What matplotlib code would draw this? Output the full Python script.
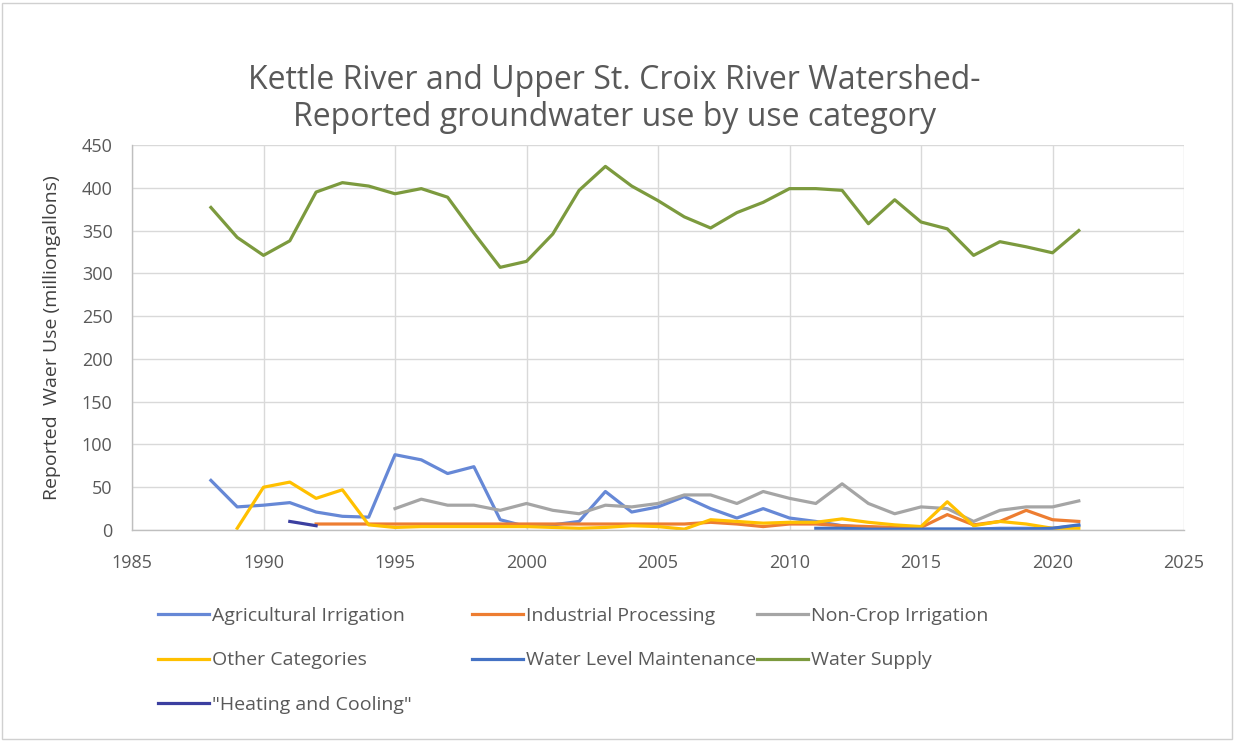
import numpy as np
import matplotlib
matplotlib.use("Agg")
import matplotlib.pyplot as plt
from matplotlib.patches import Rectangle

plt.rcParams['font.family'] = ['Open Sans', 'DejaVu Sans']

# ---- data ----
ws_years = list(range(1988, 2022))
water_supply = [377, 342, 321, 338, 395, 406, 402, 393, 399, 389, 347, 307, 314, 346,
                397, 425, 402, 385, 366, 353, 371, 383, 399, 399, 397, 358, 386, 360,
                352, 321, 337, 331, 324, 350]

ag_years = list(range(1988, 2022))
ag_irrigation = [58, 27, 29, 32, 21, 16, 15, 88, 82, 66, 74, 12, 4, 6,
                 10, 45, 21, 27, 39, 25, 14, 25, 14, 10, 5, 3, 2, 1,
                 1, 1, 2, 2, 2, 5]

ind_years = list(range(1992, 2022))
industrial = [7, 7, 7, 7, 7, 7, 7, 7, 7, 7, 7, 7, 7, 7, 7, 9, 7, 4, 7, 7,
              5, 4, 3, 3, 18, 6, 10, 23, 12, 10]

nc_years = list(range(1995, 2022))
non_crop = [25, 36, 29, 29, 23, 31, 23, 19, 29, 27, 31, 41, 41, 31, 45, 37, 31, 54,
            31, 19, 27, 25, 10, 23, 27, 27, 34]

oth_years = list(range(1989, 2022))
other = [2, 50, 56, 37, 47, 6, 3, 4, 4, 4, 4, 4, 3, 2, 3, 5, 4, 1, 12, 10, 8, 9, 9, 13,
         9, 6, 4, 33, 5, 10, 7, 2, 2]

wlm_years = list(range(2011, 2022))
water_level = [2, 2, 1, 1, 1, 1, 1, 1, 1, 2, 6]

hc_years = [1991, 1992]
heating_cooling = [10, 5]

x_ticks = [1985, 1990, 1995, 2000, 2005, 2010, 2015, 2020, 2025]
y_ticks = [0, 50, 100, 150, 200, 250, 300, 350, 400, 450]

title = "Kettle River and Upper St. Croix River Watershed-\nReported groundwater use by use category"
ylabel = "Reported  Waer Use (milliongallons)"

# ---- figure ----
W, H = 1236, 741
fig = plt.figure(figsize=(W / 100, H / 100), dpi=100)
fig.patch.set_facecolor('white')
fig.add_artist(Rectangle((0.002, 0.003), 0.995, 0.993, transform=fig.transFigure,
                         fill=False, edgecolor='#D0D0D0', linewidth=1.0))

L, R, T, B = 132, 1184, 145, 530
ax = fig.add_axes([L / W, 1 - B / H, (R - L) / W, (B - T) / H])

lw = 2.3
h_ag, = ax.plot(ag_years, ag_irrigation, color='#6688D6', lw=lw, label='Agricultural Irrigation')
h_ind, = ax.plot(ind_years, industrial, color='#ED7D31', lw=lw, label='Industrial Processing')
h_nc, = ax.plot(nc_years, non_crop, color='#A5A5A5', lw=lw, label='Non-Crop Irrigation')
h_oth, = ax.plot(oth_years, other, color='#FFC000', lw=lw, label='Other Categories')
h_wlm, = ax.plot(wlm_years, water_level, color='#4472C4', lw=lw, label='Water Level Maintenance')
h_ws, = ax.plot(ws_years, water_supply, color='#7C9A3E', lw=lw, label='Water Supply')
h_hc, = ax.plot(hc_years, heating_cooling, color='#3B3FA0', lw=lw, label='"Heating and Cooling"')

ax.set_xlim(1985, 2025)
ax.set_ylim(0, 450)
ax.set_xticks(x_ticks)
ax.set_yticks(y_ticks)
ax.grid(True, color='#D9D9D9', lw=1.0)
ax.set_axisbelow(True)
for s in ['top', 'right']:
    ax.spines[s].set_visible(False)
for s in ['left', 'bottom']:
    ax.spines[s].set_color('#BFBFBF')
    ax.spines[s].set_linewidth(1.0)
ax.tick_params(axis='both', length=0, labelsize=13, labelcolor='#595959')
ax.tick_params(axis='x', pad=17)
ax.tick_params(axis='y', pad=14)
ax.set_ylabel(ylabel, fontsize=14, color='#404040', labelpad=15)

fig.text(0.497, 1 - 99 / H, title, ha='center', va='center', fontsize=23,
         color='#595959', linespacing=1.15)

# legend: three columns placed like the reference
cols = [([h_ag, h_oth, h_hc], 158), ([h_ind, h_wlm], 472), ([h_nc, h_ws], 757)]
for hs, x0 in cols:
    fig.legend(handles=hs, labels=[h.get_label() for h in hs],
               loc='upper left', bbox_to_anchor=(x0 / W, 1 - 607 / H),
               frameon=False, fontsize=14, labelcolor='#595959',
               handlelength=2.6, handletextpad=0.2, labelspacing=1.36,
               borderpad=0, borderaxespad=0)

fig.savefig('out.png', dpi=100)
